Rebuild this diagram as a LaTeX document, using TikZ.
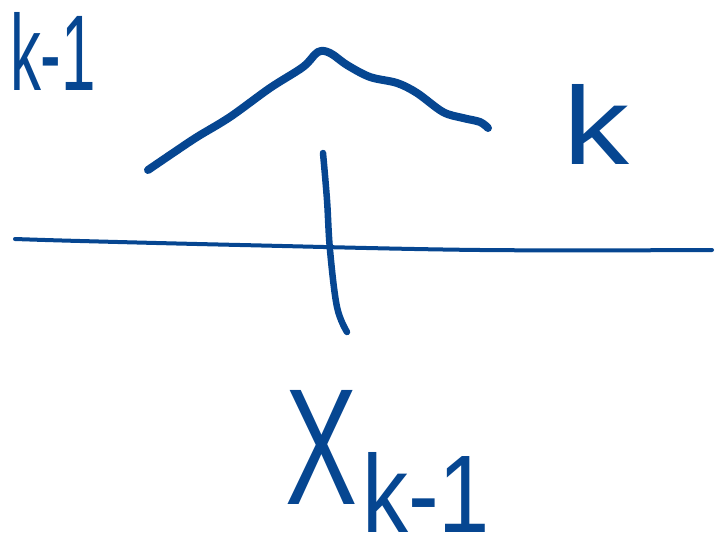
\documentclass[tikz,border=0pt]{standalone}
\usepackage{fontspec}
\setmainfont{Liberation Sans}
\usepackage{graphicx}
\definecolor{ink}{RGB}{6,70,145}
\tikzset{
  pen/.style={draw=ink, line cap=round, line join=round},
  lbl/.style={inner sep=0pt, outer sep=0pt, text=ink, anchor=north west}
}
\begin{document}
\begin{tikzpicture}[x=1pt,y=-1pt]
\useasboundingbox (0,0) rectangle (715,546);
% labels
\node[lbl] (lkm) at (10,12) {\resizebox{86pt}{78pt}{k-1}};
\node[lbl] (lk) at (563,84) {\resizebox{66pt}{80pt}{k}};
\node[lbl] (lx) at (285,390) {\resizebox{72pt}{114pt}{X}};
\node[lbl] (lsub) at (362,452) {\resizebox{128pt}{80pt}{k-1}};
% axis
\draw[pen, line width=4pt] plot[smooth, tension=0.6] coordinates {(15,239) (80,241) (240,245) (480,250) (712,250)};
% vertical tick
\draw[pen, line width=6.5pt] plot[smooth, tension=0.6] coordinates {(323,153) (327,200) (330,250) (337,307) (347,332)};
% curve
\draw[pen, line width=8pt] plot[smooth, tension=0.55] coordinates {(148,170) (173,153) (197,137) (230,117) (270,88) (303,67) (318,52) (330,53) (347,65) (370,77) (397,83) (417,93) (443,112) (463,118) (480,122) (488,128)};
\end{tikzpicture}
\end{document}
